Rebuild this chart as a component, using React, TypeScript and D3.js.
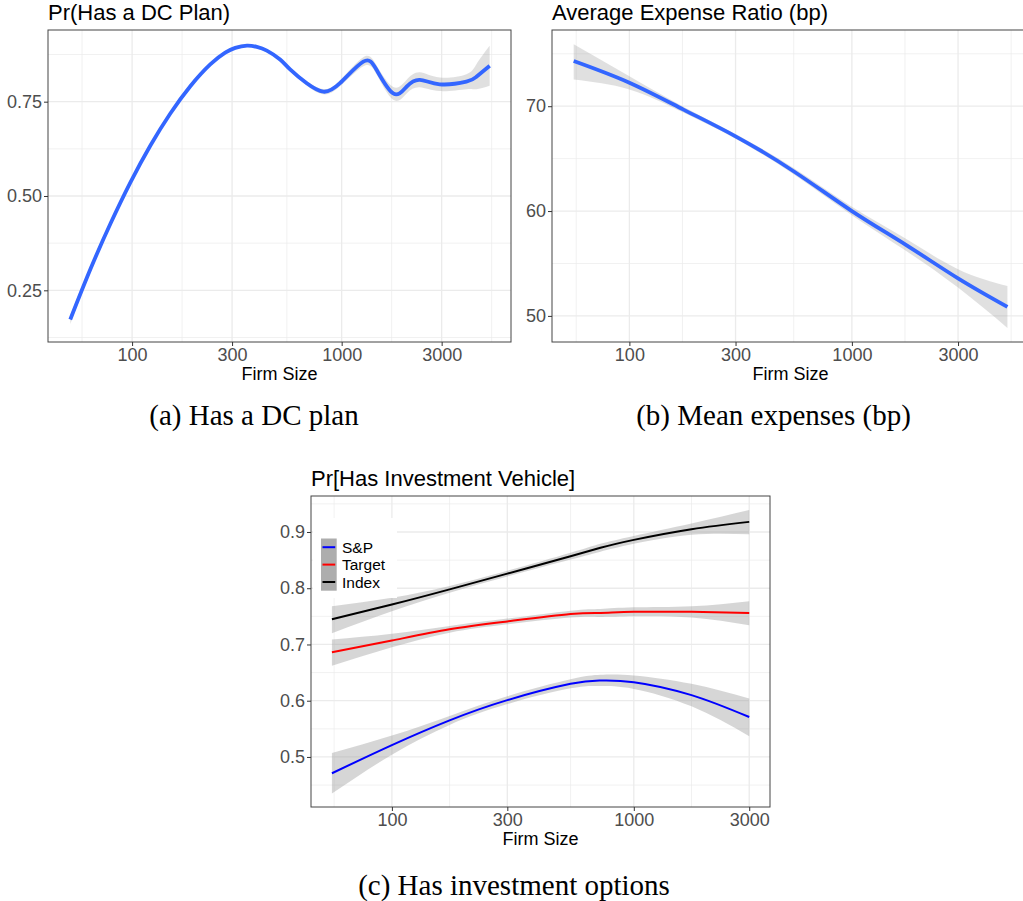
import React, { useEffect, useRef } from "react";
import * as d3 from "d3";

// ---------- Panel (a): Pr(Has a DC Plan) ----------
const dcSize = [50.7, 63.3, 78.9, 98.2, 122.3, 152.2, 189.6, 236.0, 278.2, 310.5, 353.1, 393.9, 439.5, 508.5, 567.5, 681.6, 817.5, 981.7, 1268, 1469, 1762, 2042, 2360, 2938, 3936, 4395, 5082];
const dcFit = [0.1725, 0.3063, 0.427, 0.5361, 0.6338, 0.7187, 0.7909, 0.8487, 0.8798, 0.8925, 0.8986, 0.8952, 0.8853, 0.8617, 0.8355, 0.7988, 0.7765, 0.799, 0.856, 0.834, 0.772, 0.79, 0.808, 0.796, 0.803, 0.816, 0.845];
const dcBand = [0.012, 0.008, 0.006, 0.005, 0.004, 0.004, 0.004, 0.004, 0.004, 0.004, 0.004, 0.004, 0.004, 0.005, 0.005, 0.006, 0.007, 0.008, 0.012, 0.012, 0.017, 0.018, 0.02, 0.018, 0.02, 0.033, 0.053];

// ---------- Panel (b): Average Expense Ratio (bp) ----------
const expSize = [56.2, 100, 175, 300, 547, 1000, 1742, 3000, 5000];
const expFit = [74.31, 72.24, 69.68, 67.13, 63.8, 60.0, 56.8, 53.58, 50.86];
const expLo = [72.55, 71.6, 69.4, 66.9, 63.5, 59.6, 56.23, 52.7, 48.85];
const expHi = [75.9, 72.85, 69.95, 67.35, 64.1, 60.4, 57.38, 54.45, 52.84];

// ---------- Panel (c): Pr[Has Investment Vehicle] ----------
const invSize = [56.5, 100, 173.2, 300, 547.7, 728, 1000, 1732, 3000];
const spFit = [0.471, 0.521, 0.565, 0.601, 0.63, 0.636, 0.633, 0.61, 0.571];
const spLo = [0.435, 0.504, 0.557, 0.594, 0.622, 0.626, 0.621, 0.59, 0.537];
const spHi = [0.507, 0.538, 0.573, 0.608, 0.638, 0.646, 0.645, 0.63, 0.604];
const tgtFit = [0.686, 0.707, 0.727, 0.741, 0.754, 0.756, 0.758, 0.758, 0.756];
const tgtLo = [0.662, 0.695, 0.721, 0.736, 0.748, 0.749, 0.75, 0.748, 0.734];
const tgtHi = [0.709, 0.719, 0.733, 0.746, 0.76, 0.763, 0.766, 0.768, 0.777];
const idxFit = [0.745, 0.771, 0.798, 0.826, 0.857, 0.872, 0.886, 0.905, 0.918];
const idxLo = [0.72, 0.759, 0.792, 0.821, 0.851, 0.865, 0.879, 0.895, 0.896];
const idxHi = [0.768, 0.783, 0.804, 0.831, 0.863, 0.879, 0.893, 0.915, 0.939];

const legendLabels = ["S&P", "Target", "Index"];
const legendColors = ["#0000FF", "#FF0000", "#000000"];

// ---------- Axes ----------
const xTicks = [100, 300, 1000, 3000];
const xMinor = [57.7, 173.2, 547.7, 1732, 5196];
const yTicksA = [0.25, 0.5, 0.75];
const yMinorA = [0.125, 0.375, 0.625, 0.875];
const yTicksB = [50, 60, 70];
const yMinorB = [55, 65, 75];
const yTicksC = [0.5, 0.6, 0.7, 0.8, 0.9];
const yMinorC = [0.45, 0.55, 0.65, 0.75, 0.85, 0.95];

const SANS = "'Liberation Sans', Arial, Helvetica, sans-serif";
const SERIF = "'Liberation Serif', 'Times New Roman', serif";

type Series = { x: number[]; fit: number[]; lo: number[]; hi: number[]; color: string; width: number };
type PanelCfg = {
  box: { l: number; r: number; t: number; b: number };
  xDom: [number, number];
  yDom: [number, number];
  yTicks: number[];
  yMinor: number[];
  yFmt: (v: number) => string;
  title: string;
  series: Series[];
  ribbonOpacity: number;
};

function drawPanel(svg: d3.Selection<SVGSVGElement, unknown, null, undefined>, cfg: PanelCfg) {
  const { l, r, t, b } = cfg.box;
  const x = d3.scaleLog().domain(cfg.xDom).range([l, r]);
  const y = d3.scaleLinear().domain(cfg.yDom).range([b, t]);
  const g = svg.append("g");

  g.append("rect").attr("x", l).attr("y", t).attr("width", r - l).attr("height", b - t).attr("fill", "#fff");

  const inX = (v: number) => v > cfg.xDom[0] && v < cfg.xDom[1];
  const inY = (v: number) => v > cfg.yDom[0] && v < cfg.yDom[1];

  // minor grid
  g.selectAll(null).data(xMinor.filter(inX)).enter().append("line")
    .attr("x1", (d) => x(d)).attr("x2", (d) => x(d)).attr("y1", t).attr("y2", b)
    .attr("stroke", "#ebebeb").attr("stroke-width", 0.7);
  g.selectAll(null).data(cfg.yMinor.filter(inY)).enter().append("line")
    .attr("x1", l).attr("x2", r).attr("y1", (d) => y(d)).attr("y2", (d) => y(d))
    .attr("stroke", "#ebebeb").attr("stroke-width", 0.7);
  // major grid
  g.selectAll(null).data(xTicks.filter(inX)).enter().append("line")
    .attr("x1", (d) => x(d)).attr("x2", (d) => x(d)).attr("y1", t).attr("y2", b)
    .attr("stroke", "#ebebeb").attr("stroke-width", 1.3);
  g.selectAll(null).data(cfg.yTicks.filter(inY)).enter().append("line")
    .attr("x1", l).attr("x2", r).attr("y1", (d) => y(d)).attr("y2", (d) => y(d))
    .attr("stroke", "#ebebeb").attr("stroke-width", 1.3);

  const curve = d3.curveNatural;
  cfg.series.forEach((s) => {
    const idx = s.x.map((_, i) => i);
    const area = d3.area<number>().x((i) => x(s.x[i])).y0((i) => y(s.lo[i])).y1((i) => y(s.hi[i])).curve(curve);
    g.append("path").attr("d", area(idx)).attr("fill", "#999999").attr("fill-opacity", cfg.ribbonOpacity);
  });
  cfg.series.forEach((s) => {
    const idx = s.x.map((_, i) => i);
    const line = d3.line<number>().x((i) => x(s.x[i])).y((i) => y(s.fit[i])).curve(curve);
    g.append("path").attr("d", line(idx)).attr("fill", "none").attr("stroke", s.color)
      .attr("stroke-width", s.width).attr("stroke-linecap", "butt");
  });

  // border
  g.append("rect").attr("x", l).attr("y", t).attr("width", r - l).attr("height", b - t)
    .attr("fill", "none").attr("stroke", "#444").attr("stroke-width", 1);

  // axes
  const ax = g.append("g").attr("transform", `translate(0,${b})`)
    .call(d3.axisBottom(x).tickValues(xTicks).tickFormat((d) => String(d)).tickSizeInner(4).tickSizeOuter(0).tickPadding(2));
  const ay = g.append("g").attr("transform", `translate(${l},0)`)
    .call(d3.axisLeft(y).tickValues(cfg.yTicks).tickFormat((d) => cfg.yFmt(+d)).tickSizeInner(4).tickSizeOuter(0).tickPadding(2));
  [ax, ay].forEach((a) => {
    a.select(".domain").remove();
    a.selectAll("line").attr("stroke", "#333");
    a.selectAll("text").attr("fill", "#4d4d4d").attr("font-size", 18).attr("font-family", SANS);
  });

  g.append("text").attr("x", (l + r) / 2).attr("y", b + 38).attr("text-anchor", "middle")
    .attr("font-family", SANS).attr("font-size", 18).attr("fill", "#000").text("Firm Size");
  g.append("text").attr("x", l).attr("y", t - 10).attr("font-family", SANS)
    .attr("font-size", 22).attr("fill", "#000").text(cfg.title);
  return { x, y, g };
}

export default function App() {
  const ref = useRef<SVGSVGElement | null>(null);
  useEffect(() => {
    const svg = d3.select(ref.current!);
    svg.selectAll("*").remove();

    drawPanel(svg, {
      box: { l: 48, r: 511, t: 30, b: 342 },
      xDom: [39.7, 6427],
      yDom: [0.113, 0.94],
      yTicks: yTicksA,
      yMinor: yMinorA,
      yFmt: d3.format(".2f"),
      title: "Pr(Has a DC Plan)",
      series: [{ x: dcSize, fit: dcFit, lo: dcFit.map((v, i) => v - dcBand[i]), hi: dcFit.map((v, i) => v + dcBand[i]), color: "#3366FF", width: 3.8 }],
      ribbonOpacity: 0.3,
    });

    drawPanel(svg, {
      box: { l: 552, r: 1029, t: 30, b: 342 },
      xDom: [44.9, 6252],
      yDom: [47.51, 77.27],
      yTicks: yTicksB,
      yMinor: yMinorB,
      yFmt: d3.format("d"),
      title: "Average Expense Ratio (bp)",
      series: [{ x: expSize, fit: expFit, lo: expLo, hi: expHi, color: "#3366FF", width: 3.8 }],
      ribbonOpacity: 0.3,
    });

    const c = drawPanel(svg, {
      box: { l: 311, r: 770, t: 496, b: 807 },
      xDom: [46.3, 3656],
      yDom: [0.411, 0.964],
      yTicks: yTicksC,
      yMinor: yMinorC,
      yFmt: d3.format(".1f"),
      title: "Pr[Has Investment Vehicle]",
      series: [
        { x: invSize, fit: spFit, lo: spLo, hi: spHi, color: legendColors[0], width: 2 },
        { x: invSize, fit: tgtFit, lo: tgtLo, hi: tgtHi, color: legendColors[1], width: 2 },
        { x: invSize, fit: idxFit, lo: idxLo, hi: idxHi, color: legendColors[2], width: 2 },
      ],
      ribbonOpacity: 0.4,
    });

    // legend
    const lg = c.g.append("g");
    lg.append("rect").attr("x", 313).attr("y", 518).attr("width", 84).attr("height", 80).attr("fill", "#fff");
    const keyH = 17.4;
    const keyTop = 538.5;
    lg.append("rect").attr("x", 321).attr("y", keyTop).attr("width", 15.7).attr("height", keyH * 3).attr("fill", "#adadad");
    legendLabels.forEach((lab, i) => {
      const cy = keyTop + keyH * (i + 0.5);
      lg.append("line").attr("x1", 322.5).attr("x2", 335.2).attr("y1", cy).attr("y2", cy)
        .attr("stroke", legendColors[i]).attr("stroke-width", 2);
      lg.append("text").attr("x", 342).attr("y", cy + 5.6).attr("font-family", SANS)
        .attr("font-size", 15.5).attr("fill", "#000").text(lab);
    });

    // captions
    const caps = [
      { t: "(a) Has a DC plan", x: 254, y: 424.5 },
      { t: "(b) Mean expenses (bp)", x: 773.5, y: 424.5 },
      { t: "(c) Has investment options", x: 514, y: 895 },
    ];
    svg.selectAll("text.cap").data(caps).enter().append("text").attr("class", "cap")
      .attr("x", (d) => d.x).attr("y", (d) => d.y).attr("text-anchor", "middle")
      .attr("font-family", SERIF).attr("font-size", 29).attr("fill", "#000").text((d) => d.t);
  }, []);

  return (
    <svg ref={ref} width={1023} height={901}
      style={{ position: "absolute", left: 0, top: 0, background: "#fff", display: "block" }} />
  );
}
